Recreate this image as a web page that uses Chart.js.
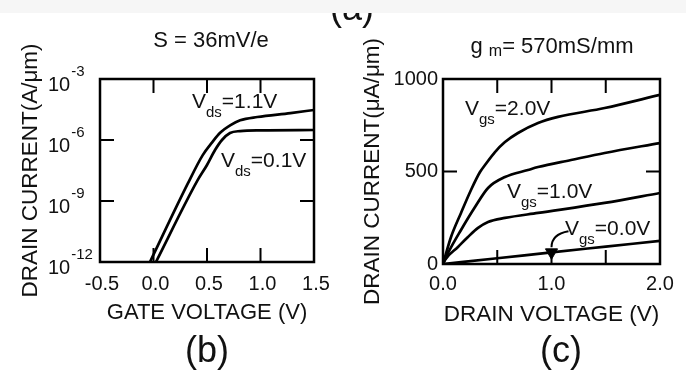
<!DOCTYPE html>
<html>
<head>
<meta charset="utf-8">
<script src="https://cdn.jsdelivr.net/npm/chart.js@4.4.1/dist/chart.umd.min.js"></script>
<style>
  body { margin: 0; background: #fff; }
  #page { position: relative; width: 686px; height: 378px; overflow: hidden;
          font-family: 'Liberation Sans', Arial, sans-serif; color: #111; }
  canvas { position: absolute; top: 0; }
  #ivChart { left: 0; }
  #outChart { left: 343px; }
  .txt { position: absolute; white-space: nowrap; line-height: 1; font-size: 21px; z-index: 2; }
  .txt sub { font-size: 15px; vertical-align: -9px; line-height: 0; }
  .title { font-size: 22px; transform: translateX(-50%); }
  .panel { font-size: 36px; transform: translateX(-50%); }
  #band { position: absolute; left: 0; top: 0; width: 686px; height: 13px; background: #f6f6f6; z-index: 3; }
</style>
</head>
<body>
<div id="page">
  <canvas id="ivChart" width="343" height="378"></canvas>
  <canvas id="outChart" width="343" height="378"></canvas>

  <div class="txt panel" style="left:352px; top:-10px;">(a)</div>
  <div id="band"></div>

  <div class="txt title" style="left:211px; top:29px;">S = 36mV/e</div>
  <div class="txt title" style="left:552px; top:35px;">g&nbsp;<sub style="font-size:16px; vertical-align:-3px;">m</sub>= 570mS/mm</div>

  <div class="txt" style="left:192px; top:90px;">V<sub>ds</sub>=1.1V</div>
  <div class="txt" style="left:221px; top:149px;">V<sub>ds</sub>=0.1V</div>

  <div class="txt" style="left:465px; top:97px;">V<sub>gs</sub>=2.0V</div>
  <div class="txt" style="left:507px; top:180px;">V<sub>gs</sub>=1.0V</div>
  <div class="txt" style="left:565px; top:217px;">V<sub>gs</sub>=0.0V</div>

  <div class="txt panel" style="left:207px; top:332px;">(b)</div>
  <div class="txt panel" style="left:561px; top:332px;">(c)</div>
</div>

<script>
// (b) subthreshold characteristics: drain current vs gate voltage
const gateTicks = [-0.5, 0, 0.5, 1.0, 1.5];
const currentDecades = [-12, -9, -6, -3];

const gateV_hi = [-0.033, 0.32, 0.46, 0.55, 0.62, 0.72, 0.81, 0.97, 1.28, 1.5];
const drainI_hi = [1e-12, 7.1e-9, 1.8e-7, 7.9e-7, 2.2e-6, 5.4e-6, 9.3e-6, 1.35e-5, 2.1e-5, 3.0e-5];

const gateV_lo = [0.023, 0.41, 0.50, 0.575, 0.64, 0.715, 0.81, 1.0, 1.5];
const drainI_lo = [1e-12, 1e-8, 5.9e-8, 3.2e-7, 1.0e-6, 2.2e-6, 2.75e-6, 3.0e-6, 3.1e-6];

// (c) output characteristics: drain current vs drain voltage
const drainTicks = [0, 0.5, 1.0, 1.5, 2.0];
const currentTicks = [0, 500, 1000];

const drainV_20 = [0, 0.074, 0.166, 0.258, 0.341, 0.387, 0.479, 0.571, 0.691, 0.876, 1.06, 1.49, 2.0];
const drainI_20 = [0, 146, 276, 400, 497, 535, 605, 659, 708, 762, 795, 843, 914];

const drainV_15 = [0, 0.046, 0.166, 0.295, 0.415, 0.571, 0.783, 0.876, 1.18, 1.49, 2.0];
const drainI_15 = [0, 59, 184, 308, 411, 470, 508, 524, 562, 600, 654];

const drainV_10 = [0, 0.018, 0.138, 0.23, 0.323, 0.415, 0.571, 0.876, 1.49, 2.0];
const drainI_10 = [0, 22, 92, 146, 195, 227, 249, 276, 330, 384];

const drainV_00 = [0, 0.5, 1.0, 1.5, 2.0];
const drainI_00 = [0, 31, 63, 94, 125];
const markedIndex = 2;

Chart.defaults.font.family = "'Liberation Sans', Arial, sans-serif";
Chart.defaults.color = '#111';

function zip(xs, ys) {
    return xs.map((x, i) => ({ x: x, y: ys[i] }));
}

function curve(xs, ys) {
    return {
        data: zip(xs, ys),
        borderColor: '#000',
        borderWidth: 2.7,
        pointRadius: 0,
        fill: false,
        cubicInterpolationMode: 'monotone'
    };
}

// box around the plot area with inward tick marks on all four sides
const framePlugin = {
    id: 'frame',
    afterDatasetsDraw(chart, args, opts) {
        const { ctx, chartArea: a, scales: { x, y } } = chart;
        ctx.save();
        ctx.strokeStyle = '#000';
        ctx.lineWidth = 2.5;
        ctx.strokeRect(a.left, a.top, a.right - a.left, a.bottom - a.top);
        ctx.lineWidth = 2;
        ctx.beginPath();
        opts.xMarks.forEach(v => {
            const px = x.getPixelForValue(v);
            ctx.moveTo(px, a.top); ctx.lineTo(px, a.top + 14);
            ctx.moveTo(px, a.bottom); ctx.lineTo(px, a.bottom - 14);
        });
        opts.yMarks.forEach(v => {
            const py = y.getPixelForValue(v);
            ctx.moveTo(a.left, py); ctx.lineTo(a.left + 14, py);
            ctx.moveTo(a.right, py); ctx.lineTo(a.right - 14, py);
        });
        ctx.stroke();

        // power-of-ten labels for the log axis
        if (opts.powerLabels) {
            y.ticks.forEach(t => {
                const py = y.getPixelForValue(t.value);
                const exp = Math.round(Math.log10(t.value));
                const x0 = a.left - 52;
                ctx.fillStyle = '#111';
                ctx.textAlign = 'left';
                ctx.textBaseline = 'alphabetic';
                ctx.font = "20px 'Liberation Sans', Arial, sans-serif";
                ctx.fillText('10', x0, py + 12);
                const w = ctx.measureText('10').width;
                ctx.font = "15px 'Liberation Sans', Arial, sans-serif";
                ctx.fillText(String(exp), x0 + w + 1, py - 3);
            });
        }

        // callout leader to the marked point on the Vgs=0.0V curve
        if (opts.callout) {
            const el = chart.getDatasetMeta(opts.callout.dataset).data[opts.callout.index];
            ctx.lineWidth = 2;
            ctx.beginPath();
            ctx.moveTo(el.x, el.y - 5);
            ctx.quadraticCurveTo(el.x, el.y - 18, el.x + 17, el.y - 21);
            ctx.stroke();
        }
        ctx.restore();
    }
};

new Chart(document.getElementById('ivChart'), {
    type: 'line',
    data: {
        datasets: [curve(gateV_hi, drainI_hi), curve(gateV_lo, drainI_lo)]
    },
    options: {
        responsive: false,
        animation: false,
        devicePixelRatio: 1,
        layout: { padding: { left: 13, top: 79, right: 29, bottom: 48 } },
        plugins: {
            legend: { display: false },
            tooltip: { enabled: false },
            frame: { xMarks: [0, 0.5, 1.0], yMarks: [1e-9, 1e-6], powerLabels: true }
        },
        scales: {
            x: {
                type: 'linear',
                min: -0.5,
                max: 1.5,
                afterBuildTicks: scale => { scale.ticks = gateTicks.map(v => ({ value: v })); },
                afterFit: scale => { scale.height = 68; },
                grid: { display: false, drawTicks: false },
                border: { display: false },
                ticks: {
                    font: { size: 20 },
                    padding: 10,
                    labelOffset: 2,
                    maxRotation: 0,
                    autoSkip: false,
                    callback: v => v.toFixed(1)
                },
                title: { display: true, text: 'GATE VOLTAGE (V)', font: { size: 22 }, padding: { top: 0, bottom: 4 } }
            },
            y: {
                type: 'logarithmic',
                min: 1e-12,
                max: 1e-3,
                afterBuildTicks: scale => { scale.ticks = currentDecades.map(e => ({ value: Math.pow(10, e) })); },
                afterFit: scale => { scale.width = 87; },
                grid: { display: false, drawTicks: false },
                border: { display: false },
                ticks: { display: false },
                title: { display: true, text: 'DRAIN CURRENT(A/\u03bcm)', font: { size: 22.5 }, padding: { top: 4, bottom: 4 } }
            }
        }
    },
    plugins: [framePlugin]
});

const offCurve = curve(drainV_00, drainI_00);
offCurve.pointStyle = 'triangle';
offCurve.rotation = 180;
offCurve.pointRadius = ctx => ctx.dataIndex === markedIndex ? 7 : 0;
offCurve.pointBackgroundColor = '#000';
offCurve.pointBorderColor = '#000';
offCurve.pointBorderWidth = 1;

new Chart(document.getElementById('outChart'), {
    type: 'line',
    data: {
        datasets: [
            curve(drainV_20, drainI_20),
            curve(drainV_15, drainI_15),
            curve(drainV_10, drainI_10),
            offCurve
        ]
    },
    options: {
        responsive: false,
        animation: false,
        devicePixelRatio: 1,
        layout: { padding: { left: 12, top: 79, right: 26, bottom: 46 } },
        plugins: {
            legend: { display: false },
            tooltip: { enabled: false },
            frame: { xMarks: [0.5, 1.0, 1.5], yMarks: [500], callout: { dataset: 3, index: markedIndex } }
        },
        scales: {
            x: {
                type: 'linear',
                min: 0,
                max: 2,
                afterBuildTicks: scale => { scale.ticks = drainTicks.map(v => ({ value: v })); },
                afterFit: scale => { scale.height = 68; },
                grid: { display: false, drawTicks: false },
                border: { display: false },
                ticks: {
                    font: { size: 20 },
                    padding: 8,
                    maxRotation: 0,
                    autoSkip: false,
                    callback: v => Number.isInteger(v) ? v.toFixed(1) : ''
                },
                title: { display: true, text: 'DRAIN VOLTAGE (V)', font: { size: 22.5 }, padding: { top: 0, bottom: 4 } }
            },
            y: {
                type: 'linear',
                min: 0,
                max: 1000,
                afterBuildTicks: scale => { scale.ticks = currentTicks.map(v => ({ value: v })); },
                afterFit: scale => { scale.width = 88; },
                grid: { display: false, drawTicks: false },
                border: { display: false },
                ticks: { font: { size: 20 }, padding: 5, callback: v => String(v) },
                title: { display: true, text: 'DRAIN CURRENT(\u03bcA/\u03bcm)', font: { size: 22.5 }, padding: { top: 4, bottom: 4 } }
            }
        }
    },
    plugins: [framePlugin]
});
</script>
</body>
</html>
